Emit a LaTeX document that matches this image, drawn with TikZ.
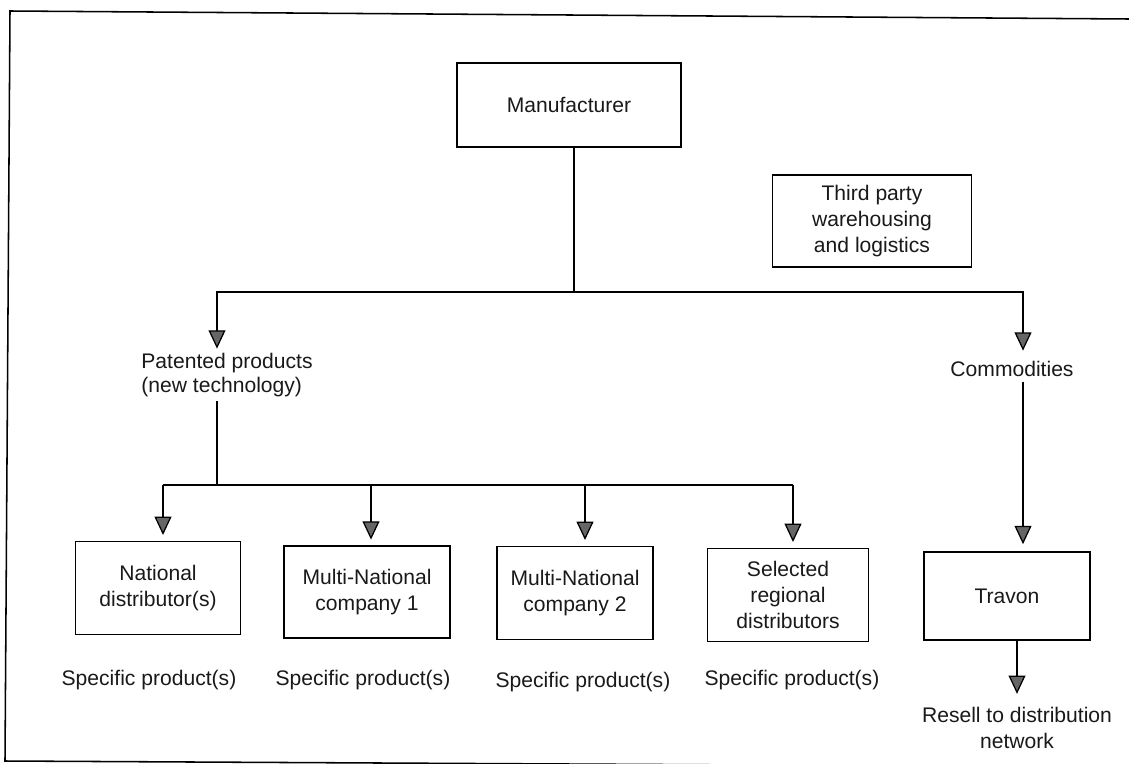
\documentclass[tikz,border=0pt]{standalone}
\usepackage{fontspec}
\setmainfont{Liberation Sans}
\usetikzlibrary{arrows.meta, positioning, calc}

\begin{document}
\begin{tikzpicture}[x=0.025cm, y=-0.025cm, font=\fontsize{15}{18.5}\selectfont,
        every node/.style={text=black!90},
        box/.style={draw, line width=1.1pt, align=center},
        label/.style={align=center},
        arr/.style={-{Triangle[length=13pt, width=12pt, fill=black!60]}, line width=0.9pt},
        link/.style={line width=0.9pt}]
        \useasboundingbox (0,0) rectangle (1129,763);
        % outer frame (open on the right)
        \draw[line width=1.1pt] (1129,19) -- (10,11) -- (5,761) -- (1129,767);

        \node[box, minimum width=5.6cm, minimum height=2.1cm] (mfr) at (569,105) {Manufacturer};
        \node[box, minimum width=4.98cm, minimum height=2.3cm] (tpl) at (872,221) {Third party\\warehousing\\and logistics};

        \node[label, align=left] (pat) at (227,375) {Patented products\\[-2pt](new technology)};
        \node[label] (com) at (1012,369) {Commodities};

        \node[box, minimum width=4.13cm, minimum height=2.33cm] (nd) at (158,588) {National\\distributor(s)};
        \node[box, minimum width=4.15cm, minimum height=2.3cm] (mn1) at (367,592) {Multi-National\\company 1};
        \node[box, minimum width=3.9cm, minimum height=2.33cm] (mn2) at (575,593) {Multi-National\\company 2};
        \node[box, minimum width=4.03cm, minimum height=2.33cm] (srd) at (788,595) {Selected\\regional\\distributors};
        \node[box, minimum width=4.15cm, minimum height=2.2cm] (trv) at (1007,596) {Travon};

        \node[label] (sp1) at (149,680) {Specific product(s)};
        \node[label] (sp2) at (363,680) {Specific product(s)};
        \node[label] (sp3) at (583,682) {Specific product(s)};
        \node[label] (sp4) at (792,680) {Specific product(s)};
        \node[label] (rsl) at (1017,728) {Resell to distribution\\network};

        % bus lines
        \coordinate (top) at (574,292);
        \coordinate (cbus) at (1023,292);
        \coordinate (low) at (217,485);
        \coordinate (b1) at (163,485);
        \coordinate (b2) at (371,485);
        \coordinate (b3) at (585,485);
        \coordinate (b4) at (793,485);

        \draw[link] (top |- mfr.south) -- (top);
        \draw[arr] (top) -| (low |- pat.north);
        \draw[arr, shorten >=4pt] (top) -| (cbus |- com.north);
        \draw[arr, shorten >=5pt] (cbus |- com.south) -- (cbus |- trv.north);
        \draw[arr, shorten >=6pt] (rsl.north |- trv.south) -- (rsl.north);

        \draw[link] (low |- pat.south) -- (low);
        \draw[link] (b1) -- (b4);
        \foreach \b/\n in {b1/nd, b2/mn1, b3/mn2, b4/srd}
            \draw[arr, shorten >=4pt] (\b) -- (\b |- \n.north);
    \end{tikzpicture}
\end{document}
